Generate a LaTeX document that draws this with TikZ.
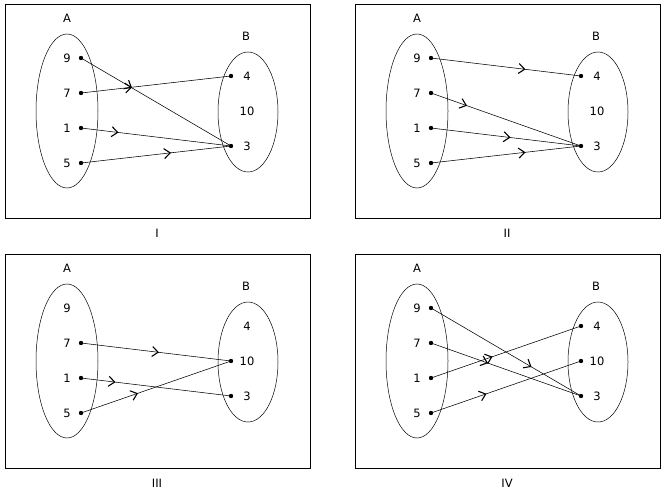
\documentclass[tikz,border=0pt]{standalone}
\usepackage{fontspec}
\setmainfont{DejaVu Sans}
\usetikzlibrary{arrows.meta, decorations.markings}

\tikzstyle{panel} = [draw=black, line width=0.7pt]
\tikzstyle{set} = [draw=black, line width=0.5pt]
\tikzstyle{elem} = [inner sep=0pt, font=\fontsize{11.5}{13}\selectfont]
\tikzset{mapsto/.style={line width=0.55pt, postaction={decorate},
    decoration={markings, mark=at position #1 with {\arrow{Straight Barb[length=6pt, width=10pt, line width=1.1pt]}}}}}

\begin{document}
\begin{tikzpicture}[x=1pt, y=-1pt]
    \useasboundingbox (0,0) rectangle (664,497);
    % four panels, each with set A and set B
    \foreach \p/\dx/\dy in {I/0/0, II/350/0, III/0/250, IV/350/250} {
        \begin{scope}[shift={(\dx,\dy)}]
            \draw [panel] (5,4) rectangle (310,218);
            \node (\p-cap) [elem] at (157,233) {\p};
            \draw [set] (67,111) ellipse (31 and 77);
            \draw [set] (248,112) ellipse (30 and 60);
            \node (\p-A) [elem] at (67,18) {A};
            \node (\p-B) [elem] at (246,36) {B};
            \node (\p-9) [elem] at (67,58) {9};
            \node (\p-7) [elem] at (67,93) {7};
            \node (\p-1) [elem] at (67,128) {1};
            \node (\p-5) [elem] at (67,163) {5};
            \node (\p-4) [elem] at (247,76) {4};
            \node (\p-10) [elem] at (247,111) {10};
            \node (\p-3) [elem] at (247,146) {3};
            \coordinate (\p-d9) at (81,58);
            \coordinate (\p-d7) at (81,93);
            \coordinate (\p-d1) at (81,128);
            \coordinate (\p-d5) at (81,163);
            \coordinate (\p-d4) at (231,76);
            \coordinate (\p-d10) at (231,111);
            \coordinate (\p-d3) at (231,146);
        \end{scope}
    }

    % I
    \draw [mapsto=0.34] (I-d9) -- (I-d3);
    \draw [mapsto=0.34] (I-d7) -- (I-d4);
    \draw [mapsto=0.25] (I-d1) -- (I-d3);
    \draw [mapsto=0.6] (I-d5) -- (I-d3);
    % II
    \draw [mapsto=0.63] (II-d9) -- (II-d4);
    \draw [mapsto=0.24] (II-d7) -- (II-d3);
    \draw [mapsto=0.53] (II-d1) -- (II-d3);
    \draw [mapsto=0.63] (II-d5) -- (II-d3);
    % III
    \draw [mapsto=0.52] (III-d7) -- (III-d10);
    \draw [mapsto=0.23] (III-d1) -- (III-d3);
    \draw [mapsto=0.38] (III-d5) -- (III-d10);
    % IV
    \draw [mapsto=0.67] (IV-d9) -- (IV-d3);
    \draw [mapsto=0.38] (IV-d7) -- (IV-d3);
    \draw [mapsto=0.41] (IV-d1) -- (IV-d4);
    \draw [mapsto=0.37] (IV-d5) -- (IV-d10);

    \foreach \d in {I-d9, I-d7, I-d1, I-d5, I-d4, I-d3,
                    II-d9, II-d7, II-d1, II-d5, II-d4, II-d3,
                    III-d7, III-d1, III-d5, III-d10, III-d3,
                    IV-d9, IV-d7, IV-d1, IV-d5, IV-d4, IV-d10, IV-d3}
        \fill (\d) circle (2.2pt);
\end{tikzpicture}
\end{document}
